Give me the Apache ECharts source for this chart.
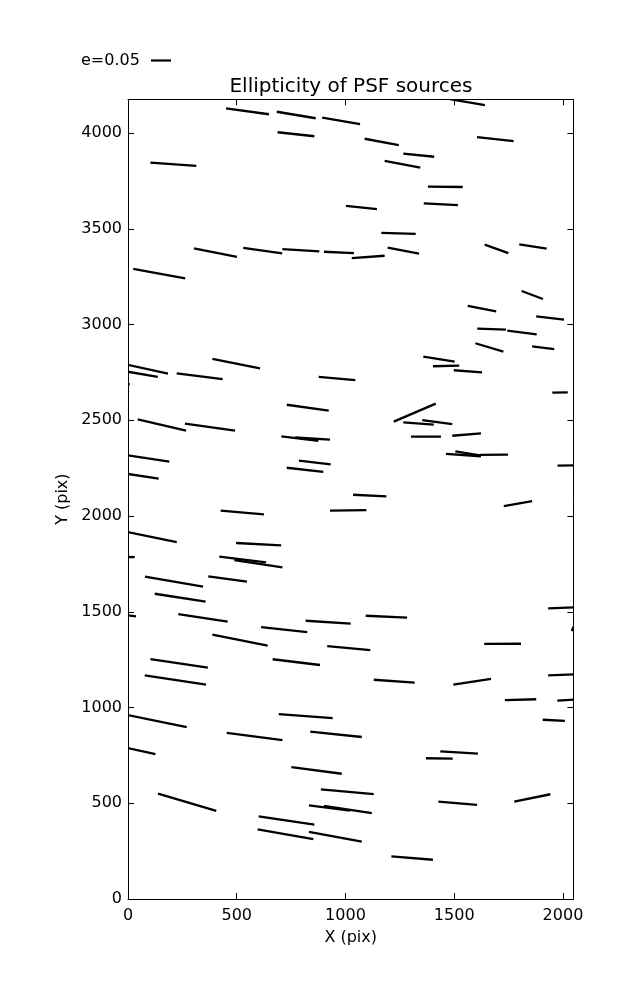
<!DOCTYPE html>
<html>
<head>
<meta charset="utf-8">
<script src="https://cdn.jsdelivr.net/npm/echarts@6/dist/echarts.min.js"></script>
<style>html,body{margin:0;padding:0;background:#fff;}#c{width:637px;height:1000px;}</style>
</head>
<body>
<div id="c"></div>
<script>
// Segment endpoints (data units, pix)
const xStart = [1480,451,684,893,688,103,1002,303,530,710,901,1029,24,1088,1605,1266,1180,1379,1360,1165,1194,1640,1799,1810,
  -12,-10,-80,224,388,877,730,45,262,705,768,-5,786,-5,730,1562,1877,1606,1744,1597,1858,1358,1402,1498,1951,1222,1266,1353,1301,1491,1462,1505,1617,1975,
  1035,426,929,-5,497,-80,420,489,78,369,123,-70,231,817,612,388,916,103,665,77,1728,1093,1932,2040,1638,1130,1496,1932,1733,1974,
  -5,693,454,838,-5,751,887,138,832,901,601,596,832,1907,1436,1370,1427,1776,1211];
const yStart = [4177,4129,4111,4080,4004,3845,3619,3398,3400,3394,3380,3347,3290,3970,3979,3892,3854,3720,3633,3479,3401,3417,3419,3175,
  2792,2755,2695,2745,2821,2726,2581,2505,2482,2416,2410,2317,2289,2220,2252,3097,3043,2978,2968,2902,2886,2832,2782,2761,2644,2493,2489,2501,2414,2419,2324,2338,2319,2263,
  2111,2028,2028,1917,1859,1788,1788,1770,1683,1685,1594,1490,1488,1453,1420,1380,1321,1253,1252,1168,2052,1479,1518,1400,1332,1145,1119,1168,1039,1036,
  961,965,867,874,789,689,573,550,489,486,432,364,351,936,771,735,508,508,223];
const xEnd = [1641,648,863,1067,857,314,1145,501,709,880,1039,1180,263,1245,1773,1408,1344,1539,1517,1323,1338,1749,1925,1908,
  184,137,8,435,607,1045,923,267,492,875,929,190,932,141,898,1693,2005,1738,1879,1726,1960,1502,1523,1628,2022,1415,1406,1491,1439,1623,1623,1619,1747,2110,
  1188,625,1096,224,704,31,635,710,345,547,357,37,458,1024,824,642,1114,367,883,359,1858,1283,2070,2070,1807,1318,1669,2070,1877,2070,
  270,941,710,1075,126,983,1130,406,1021,1121,857,852,1075,2009,1609,1493,1605,1942,1402];
const yEnd = [4145,4098,4077,4046,3983,3828,3602,3353,3372,3382,3373,3359,3241,3937,3958,3876,3819,3718,3623,3473,3370,3373,3396,3133,
  2743,2727,2688,2715,2771,2710,2550,2446,2446,2392,2399,2284,2270,2195,2230,3069,3025,2973,2949,2858,2871,2806,2785,2750,2646,2587,2477,2480,2414,2432,2312,2317,2320,2265,
  2103,2009,2031,1863,1847,1785,1758,1732,1631,1657,1553,1476,1448,1438,1394,1323,1300,1208,1222,1119,2078,1469,1524,1470,1333,1130,1150,1174,1043,1042,
  898,945,830,846,756,654,548,460,462,449,388,313,299,930,759,733,491,547,205];
const xTicks = [0, 500, 1000, 1500, 2000];
const yTicks = [0, 500, 1000, 1500, 2000, 2500, 3000, 3500, 4000];
const xMax = 2048, yMax = 4176;

const segData = xStart.map((v, i) => [v, yStart[i], xEnd[i], yEnd[i]]);

const FONT = 'DejaVu Sans';
const chart = echarts.init(document.getElementById('c'), null, {renderer: 'canvas'});

function axisCommon(showLabels, margin, ticks) {
  return {
    axisLine: {show: true, onZero: false, lineStyle: {color: '#000', width: 1}},
    axisTick: {show: true, inside: true, length: 6, customValues: ticks, lineStyle: {color: '#000', width: 1}},
    splitLine: {show: false},
    axisLabel: {show: showLabels, customValues: ticks, margin: margin, color: '#000', fontFamily: FONT, fontSize: 16,
      formatter: function (v) { return String(v); }}
  };
}

const option = {
  animation: false,
  backgroundColor: '#fff',
  grid: {left: 128, top: 99.3, width: 445.4, height: 799.7, containLabel: false},
  xAxis: [
    Object.assign(axisCommon(true, 9, xTicks), {
      type: 'value', min: 0, max: xMax, interval: 500, position: 'bottom',
      name: 'X (pix)', nameLocation: 'middle', nameGap: 31,
      nameTextStyle: {color: '#000', fontFamily: FONT, fontSize: 16}
    }),
    Object.assign(axisCommon(false, 9, xTicks), {type: 'value', min: 0, max: xMax, interval: 500, position: 'top'})
  ],
  yAxis: [
    Object.assign(axisCommon(true, 6, yTicks), {
      type: 'value', min: 0, max: yMax, interval: 500, position: 'left',
      name: 'Y (pix)', nameLocation: 'middle', nameGap: 50,
      nameTextStyle: {color: '#000', fontFamily: FONT, fontSize: 16}
    }),
    Object.assign(axisCommon(false, 6, yTicks), {type: 'value', min: 0, max: yMax, interval: 500, position: 'right'})
  ],
  graphic: [
    {type: 'text', x: 351, y: 87, style: {text: 'Ellipticity of PSF sources', fontFamily: FONT, fontSize: 20, fill: '#000', textAlign: 'center', textVerticalAlign: 'middle'}},
    {type: 'text', x: 81, y: 61, style: {text: 'e=0.05', fontFamily: FONT, fontSize: 16, fill: '#000', textVerticalAlign: 'middle'}},
    {type: 'line', shape: {x1: 151, y1: 60.5, x2: 171, y2: 60.5}, style: {stroke: '#000', lineWidth: 2.2}}
  ],
  series: [{
    type: 'custom',
    coordinateSystem: 'cartesian2d',
    clip: true,
    encode: {x: [0, 2], y: [1, 3]},
    data: segData,
    renderItem: function (params, api) {
      const p0 = api.coord([api.value(0), api.value(1)]);
      const p1 = api.coord([api.value(2), api.value(3)]);
      return {type: 'line', shape: {x1: p0[0], y1: p0[1], x2: p1[0], y2: p1[1]},
        style: {stroke: '#000', lineWidth: 2.3, lineCap: 'butt'}};
    }
  }]
};
chart.setOption(option);
</script>
</body>
</html>
